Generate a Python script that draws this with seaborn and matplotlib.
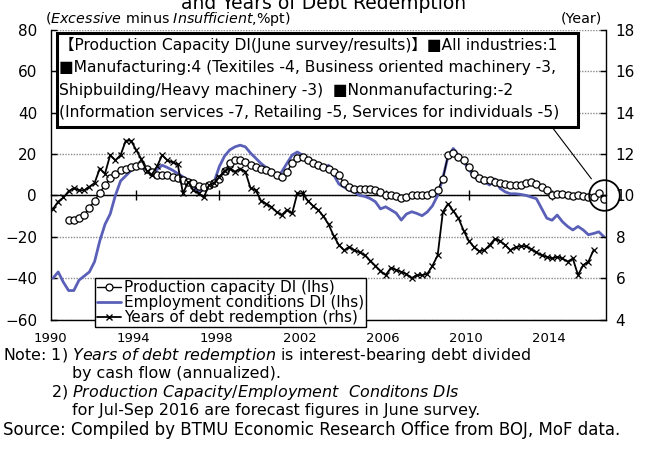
import numpy as np
import pandas as pd
import matplotlib
matplotlib.use("Agg")
import matplotlib.pyplot as plt
import matplotlib.transforms as mtransforms
from matplotlib.patches import Rectangle
from matplotlib.lines import Line2D
import seaborn as sns

# ---------------- data (quarterly, 1990Q1 .. 2016Q3) ----------------
quarters = [f"{y}Q{k}" for y in range(1990, 2017) for k in range(1, 5)][:107]

# Production capacity DI (lhs), starts 1990Q4
pc_start = "1990Q4"
prod_capacity = [-12, -12, -11, -9.5, -6, -2.5, 1.3, 5, 8.3, 10.6, 12.2, 13, 13.8, 14, 14.6, 13, 11.4, 9.8,
                 9.8, 9.8, 9, 8.3, 7.5, 6.6, 5.8, 4.5, 4, 5,
                 5.8, 8, 12, 15.5, 17, 17, 16.3, 14.6, 13.8, 13,
                 12.2, 11.4, 9.8, 9, 11.4, 15.6, 17.9, 18.7, 17, 15.6,
                 14.6, 13.8, 13, 11.4, 9.8, 5.8, 4.2, 3.3, 3.3, 3.3,
                 3.3, 2.5, 1.7, 0, 0, -0.5, -1.3, -0.8, 0, 0,
                 0, 0, 1, 2.6, 8, 19.5, 20.3, 18.7, 17, 13.8,
                 10.6, 8.2, 7.5, 7.5, 6.6, 5.8, 5.4, 5, 5, 5,
                 5.8, 6.3, 5.4, 4.2, 2.6, 0, 0.8, 0.8, 0.4, -0.4,
                 0, -0.4, -0.8, -0.8, 1, -1.8]

# Employment conditions DI (lhs), 1990Q1 .. 2016Q3
employment = [-40, -37, -42, -46, -46, -41, -39, -37, -32, -22,
              -14, -9, 0, 7, 9.5, 12, 15, 14, 11.4, 10.5,
              12.5, 14.6, 13.5, 12.2, 10.6, 9, 7.5, 4.5, 1.5, 3,
              4, 6.5, 14, 19, 22, 23.5, 24.3, 23.5, 20.5, 18,
              15.5, 13.5, 12, 9, 11.4, 15.5, 19.5, 21, 19.5, 18,
              16.5, 15, 13, 14.6, 10, 5.5, 4, 2.5, 1.5, 0,
              -0.5, -1.5, -3, -6.5, -5.5, -7, -8.5, -11.9, -9, -7.9,
              -8.7, -9.8, -8, -5, 0, 8.5, 19, 22.7, 19.5, 16.3,
              12.5, 9, 7, 6.6, 5, 8, 3.4, 1.7, 0.8, 0.8,
              0.5, 0, -0.8, -1.6, -6.3, -11, -12, -9.5, -12.7, -15,
              -16.7, -15, -16.7, -19, -18.4, -17.6, -20]

# Years of debt redemption (rhs, years), 1990Q1 .. 2016Q1
debt_years = [9.35, 9.70, 9.90, 10.20, 10.35, 10.25, 10.25, 10.42, 10.60, 11.30,
              11.05, 11.95, 11.70, 11.95, 12.65, 12.65, 12.20, 11.75, 11.20, 11.00,
              11.40, 11.95, 11.70, 11.60, 11.50, 10.10, 10.65, 10.25, 10.10, 9.90,
              10.50, 10.60, 10.90, 11.20, 11.30, 11.15, 11.30, 11.15, 10.35, 10.25,
              9.75, 9.60, 9.45, 9.20, 9.05, 9.30, 9.13, 10.10, 10.10, 9.75,
              9.50, 9.30, 9.00, 8.60, 8.05, 7.60, 7.35, 7.50, 7.35, 7.25,
              7.10, 6.85, 6.60, 6.35, 6.15, 6.50, 6.40, 6.30, 6.20, 6.00,
              6.15, 6.15, 6.20, 6.60, 7.10, 9.20, 9.60, 9.25, 8.90, 8.30,
              7.80, 7.50, 7.30, 7.35, 7.60, 7.90, 7.80, 7.60, 7.35, 7.50,
              7.54, 7.55, 7.40, 7.25, 7.10, 7.03, 6.95, 7.03, 6.95, 6.80,
              6.95, 6.15, 6.63, 6.80, 7.36]

year_labels = ["1990", "1994", "1998", "2002", "2006", "2010", "2014"]

series_names = ["Production capacity DI (lhs)",
                "Employment conditions DI (lhs)",
                "Years of debt redemption (rhs)"]

box_lines = ["\u3010Production Capacity DI(June survey/results)\u3011\u25a0All industries:1",
             "\u25a0Manufacturing:4 (Texitiles -4, Business oriented machinery -3,",
             "Shipbuilding/Heavy machinery -3)  \u25a0Nonmanufacturing:-2",
             "(Information services -7, Retailing -5, Services for individuals -5)"]

# ---------------- frames ----------------
qpos = {q: i for i, q in enumerate(quarters)}
df_emp = pd.DataFrame({"q": [qpos[q] for q in quarters[:len(employment)]], "v": employment})
i0 = qpos[pc_start]
df_pc = pd.DataFrame({"q": list(range(i0, i0 + len(prod_capacity))), "v": prod_capacity})
df_ydr = pd.DataFrame({"q": list(range(len(debt_years))), "v": debt_years})

# ---------------- style ----------------
sns.set_theme(style="white", rc={"axes.edgecolor": "black", "text.color": "black",
                                  "xtick.color": "black", "ytick.color": "black"})
plt.rcParams["font.family"] = ["DejaVu Sans", "Noto Sans CJK JP"]
plt.rcParams["mathtext.fontset"] = "dejavusans"

BLUE = "#5A60B8"
W, H = 648, 465


def fx(px):
    return px / W


def fy(py):
    return 1 - py / H


fig = plt.figure(figsize=(W / 100, H / 100), dpi=100)
ax = fig.add_axes([fx(51), fy(319.5), (606 - 51) / W, (319.5 - 30) / H])
ax2 = ax.twinx()

sns.lineplot(data=df_emp, x="q", y="v", ax=ax, color=BLUE, linewidth=2.0, zorder=3, legend=False)
sns.lineplot(data=df_pc, x="q", y="v", ax=ax, color="black", linewidth=1.0, marker="o",
             markersize=5.2, markerfacecolor="white", markeredgecolor="black",
             markeredgewidth=0.9, zorder=4, legend=False)
sns.lineplot(data=df_ydr, x="q", y="v", ax=ax2, color="black", linewidth=1.3, marker="x",
             markersize=4.0, markeredgecolor="black", markeredgewidth=0.9, zorder=4, legend=False)

# axes limits
ax.set_xlim(-0.385, len(quarters) - 1 + 0.385)
ax.set_ylim(-60, 80)
ax2.set_ylim(4, 18)
ax.set_xlabel("")
ax.set_ylabel("")
ax2.set_ylabel("")

# left axis
ax.set_yticks(np.arange(-60, 81, 20))
ax.yaxis.grid(True, color="#8c8c8c", linestyle=(0, (1, 1)), linewidth=1.0)
ax.xaxis.grid(False)
ax.tick_params(axis="y", direction="in", length=4, width=1, pad=10, labelsize=11, left=True)
ax.spines["top"].set_visible(False)
ax.spines["right"].set_visible(False)
ax.spines["left"].set_linewidth(1.0)
ax.spines["bottom"].set_position(("data", 0))
ax.spines["bottom"].set_linewidth(1.0)
tick_q = np.arange(0, len(quarters), 16)
ax.set_xticks(tick_q[1:])
ax.tick_params(axis="x", direction="inout", length=7, width=1, labelbottom=False, bottom=True)

# right axis
ax2.set_yticks(np.arange(4, 19, 2))
ax2.tick_params(axis="y", direction="in", length=4, width=1, pad=7, labelsize=11, right=True)
ax2.tick_params(axis="x", bottom=False, labelbottom=False)
ax2.grid(False)
for s in ["top", "left"]:
    ax2.spines[s].set_visible(False)
ax2.spines["right"].set_linewidth(1.0)
ax2.spines["bottom"].set_linewidth(1.0)

# year labels at every 16th quarter, below the frame
trans = mtransforms.blended_transform_factory(ax.transData, ax.transAxes)
for lab, pos in zip(year_labels, tick_q):
    ax.text(pos - 0.6, (319.5 - 338.5) / 289.5, lab, transform=trans, ha="center", va="center",
            fontsize=9.5)

# legend
handles = [Line2D([], [], color="black", lw=1.0, marker="o", markersize=5, markerfacecolor="white",
                  markeredgecolor="black", markeredgewidth=0.9),
           Line2D([], [], color=BLUE, lw=2.0),
           Line2D([], [], color="black", lw=1.3, marker="x", markersize=4.0, markeredgecolor="black")]
leg = ax2.legend(handles, series_names, loc="lower left", bbox_to_anchor=(fx(95), fy(327)),
                 bbox_transform=fig.transFigure, frameon=True, fancybox=False, framealpha=1,
                 edgecolor="black", fontsize=11, handlelength=1.6, handletextpad=0.15,
                 labelspacing=0.0, borderpad=0.12, borderaxespad=0, numpoints=1)
leg.get_frame().set_linewidth(1.0)
leg.set_zorder(10)

# annotation box
fig.add_artist(Rectangle((fx(57), fy(127)), (578 - 57) / W, (127 - 33) / H, transform=fig.transFigure,
                         facecolor="white", edgecolor="black", linewidth=2.2, zorder=5))
for i, line in enumerate(box_lines):
    fig.text(fx(59), fy(45 + i * 22.5), line, ha="left", va="center", fontsize=11.2, zorder=6)

# circle on the last production-capacity point and connector
last_q = df_pc["q"].iloc[-1]
ax.plot([last_q], [0], marker="o", markersize=22, markerfacecolor="none", markeredgecolor="black",
        markeredgewidth=1.3, clip_on=False, zorder=6)
ax.annotate("", xy=(last_q, 0), xycoords="data", xytext=(fx(552), fy(127)), textcoords="figure fraction",
            arrowprops=dict(arrowstyle="-", color="black", lw=0.8, shrinkA=0, shrinkB=15), zorder=6)

# texts
fig.text(fx(324), fy(9), "and Years of Debt Redemption", ha="center", va="baseline", fontsize=13.5)
fig.text(fx(45), fy(19), r"($\mathit{Excessive}$ minus $\mathit{Insufficient}$,%pt)", ha="left",
         va="center", fontsize=10.3)
fig.text(fx(602), fy(19), "(Year)", ha="right", va="center", fontsize=10.3)

# notes: indents measured from the rendered note prefix
NOTE_FS = 11.4
renderer = fig.canvas.get_renderer()


def text_w(s, fs):
    t = fig.text(0, 0, s, fontsize=fs)
    w = t.get_window_extent(renderer).width
    t.remove()
    return w


x_note = 3
ind1 = x_note + text_w("Note: ", NOTE_FS)
ind2 = x_note + text_w("Note: 1) ", NOTE_FS)
notes = [(x_note, 355, NOTE_FS, r"Note: 1) $\mathit{Years\ of\ debt\ redemption}$ is interest-bearing debt divided"),
         (ind2, 373.5, NOTE_FS, "by cash flow (annualized)."),
         (ind1, 392, NOTE_FS, r"2) $\mathit{Production\ Capacity/Employment\ \ Conditons\ DIs}$"),
         (ind2, 410.5, NOTE_FS, "for Jul-Sep 2016 are forecast figures in June survey."),
         (x_note, 429.5, 12.0, "Source: Compiled by BTMU Economic Research Office from BOJ, MoF data.")]
for x0, y0, fs, t in notes:
    fig.text(fx(x0), fy(y0), t, ha="left", va="center", fontsize=fs)

fig.savefig("out.png", dpi=100)
